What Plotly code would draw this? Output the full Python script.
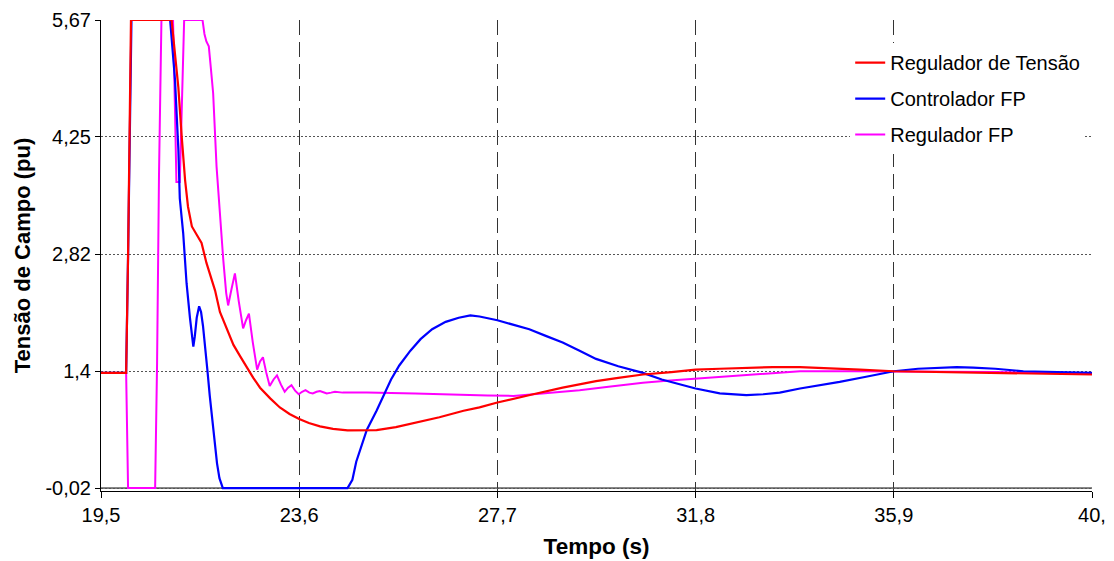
import plotly.graph_objects as go

# ---------------- data ----------------
t_red = [19.5, 20.02, 20.06, 20.09, 20.12, 20.96, 21.03, 21.10, 21.17, 21.24, 21.30, 21.38, 21.48, 21.58,
         21.68, 21.77, 21.86, 21.96, 22.10, 22.24, 22.38, 22.51, 22.65, 22.79, 23.0, 23.2, 23.4, 23.6,
         23.8, 24.03, 24.3, 24.6, 24.9, 25.2, 25.6, 26.0, 26.5, 27.0, 27.33, 27.7, 28.1, 28.44, 29.05,
         29.74, 30.2, 30.71, 31.3, 31.8, 32.3, 32.85, 33.4, 33.96, 34.5, 35.2, 35.9, 36.8, 37.9, 39.0, 40.0]
v_red = [1.38, 1.38, 2.8, 4.3, 5.67, 5.67, 5.30, 4.85, 4.25, 3.72, 3.40, 3.16, 3.06, 2.96,
         2.72, 2.54, 2.38, 2.12, 1.93, 1.72, 1.58, 1.45, 1.32, 1.20, 1.07, 0.96, 0.88, 0.82,
         0.77, 0.73, 0.70, 0.68, 0.68, 0.685, 0.72, 0.77, 0.84, 0.92, 0.96, 1.02, 1.07, 1.12, 1.20,
         1.28, 1.32, 1.36, 1.39, 1.42, 1.43, 1.44, 1.45, 1.45, 1.44, 1.42, 1.40, 1.39, 1.38, 1.37, 1.36]

t_blue = [19.5, 20.02, 20.06, 20.09, 20.13, 20.93, 20.98, 21.03, 21.10, 21.13, 21.20, 21.27, 21.34, 21.38,
          21.41, 21.44, 21.48, 21.53, 21.57, 21.61, 21.65, 21.70, 21.75, 21.80, 21.85, 21.90, 21.95, 22.0,
          22.02, 24.6, 24.7, 24.78, 24.9, 25.0, 25.2, 25.37, 25.5, 25.67, 25.9, 26.11, 26.35, 26.63, 26.9,
          27.14, 27.33, 27.7, 28.0, 28.36, 28.7, 29.05, 29.4, 29.74, 30.2, 30.71, 31.1, 31.47, 31.8, 32.3,
          32.85, 33.2, 33.54, 33.96, 34.4, 34.78, 35.3, 35.9, 36.4, 36.85, 37.2, 37.54, 38.0, 38.58, 39.3, 40.0]
v_blue = [1.38, 1.38, 2.8, 4.3, 5.67, 5.67, 5.35, 4.95, 4.10, 3.50, 3.08, 2.47, 2.05, 1.80,
          1.70, 1.82, 2.05, 2.19, 2.12, 1.95, 1.74, 1.42, 1.10, 0.80, 0.52, 0.28, 0.10, 0.0,
          -0.02, -0.02, 0.08, 0.30, 0.50, 0.69, 0.92, 1.14, 1.30, 1.47, 1.65, 1.79, 1.91, 2.00, 2.05,
          2.08, 2.065, 2.02, 1.97, 1.91, 1.83, 1.75, 1.65, 1.55, 1.46, 1.38, 1.30, 1.24, 1.19, 1.13,
          1.11, 1.12, 1.14, 1.19, 1.23, 1.27, 1.33, 1.40, 1.43, 1.445, 1.45, 1.445, 1.43, 1.40, 1.39, 1.38]

t_mag = [19.5, 20.02, 20.06, 20.62, 20.66, 20.70, 20.75, 20.99, 21.03, 21.06, 21.13, 21.18, 21.22, 21.6,
         21.64, 21.68, 21.73, 21.77, 21.82, 21.89, 21.96, 22.03, 22.09, 22.13, 22.20, 22.27, 22.35, 22.44,
         22.50, 22.56, 22.64, 22.73, 22.79, 22.85, 22.92, 22.99, 23.07, 23.14, 23.22, 23.30, 23.37, 23.44,
         23.52, 23.59, 23.66, 23.73, 23.81, 23.88, 23.96, 24.03, 24.10, 24.17, 24.26, 24.34, 24.5, 25.0,
         26.0, 27.0, 27.5, 28.03, 28.44, 28.9, 29.4, 30.0, 30.71, 31.2, 31.8, 32.3, 32.85, 33.4, 33.96,
         35.0, 35.9, 37.0, 38.0, 39.0, 40.0]
v_mag = [1.38, 1.38, -0.02, -0.02, 1.5, 3.8, 5.67, 5.67, 4.6, 3.70, 3.70, 4.8, 5.67, 5.67,
         5.50, 5.41, 5.35, 5.10, 4.78, 3.89, 3.28, 2.75, 2.35, 2.20, 2.40, 2.59, 2.25, 1.92,
         2.02, 2.10, 1.75, 1.42, 1.52, 1.57, 1.38, 1.22, 1.30, 1.35, 1.24, 1.15, 1.20, 1.23,
         1.16, 1.12, 1.15, 1.17, 1.14, 1.13, 1.15, 1.16, 1.145, 1.13, 1.14, 1.15, 1.14, 1.14,
         1.13, 1.11, 1.105, 1.10, 1.12, 1.14, 1.17, 1.21, 1.26, 1.285, 1.31, 1.335, 1.36, 1.38, 1.40,
         1.40, 1.40, 1.395, 1.39, 1.38, 1.37]

x_ticks = [19.5, 23.6, 27.7, 31.8, 35.9, 40.0]
x_ticklabels = ["19,5", "23,6", "27,7", "31,8", "35,9", "40,"]
y_ticks = [-0.02, 1.4, 2.82, 4.25, 5.67]
y_ticklabels = ["-0,02", "1,4", "2,82", "4,25", "5,67"]

names = ["Regulador de Tensão", "Controlador FP", "Regulador FP"]

# ---------------- figure ----------------
FONT = "Liberation Sans, Arial, sans-serif"
fig = go.Figure()
fig.add_trace(go.Scatter(x=t_mag, y=v_mag, mode="lines", name=names[2], legendrank=3,
                         legendgroup="c", line=dict(color="#FF00FF", width=2)))
fig.add_trace(go.Scatter(x=t_blue, y=v_blue, mode="lines", name=names[1], legendrank=2,
                         legendgroup="b", line=dict(color="#0000FF", width=2.2)))
fig.add_trace(go.Scatter(x=t_red, y=v_red, mode="lines", name=names[0], legendrank=1,
                         legendgroup="a", line=dict(color="#FF0000", width=2.2)))

# solid line at the -0,02 level (double bottom line)
fig.add_shape(type="line", xref="paper", x0=0, x1=1, yref="y", y0=-0.02, y1=-0.02,
              line=dict(color="black", width=1), layer="below")

fig.update_layout(
    width=1114, height=561,
    margin=dict(l=93, r=30, t=12, b=78, autoexpand=False),
    paper_bgcolor="white", plot_bgcolor="white",
    font=dict(family=FONT, size=20, color="black"),
    showlegend=True,
    legend=dict(x=0.756, xanchor="left", y=0.951, yanchor="top",
                bgcolor="white", borderwidth=0, font=dict(size=20, family=FONT),
                traceorder="grouped", tracegroupgap=7, itemwidth=30),
    xaxis=dict(range=[19.5, 40.0], tickvals=x_ticks, ticktext=x_ticklabels,
               showgrid=True, gridcolor="#333333", gridwidth=1, griddash="15px,7px",
               showline=True, linecolor="black", linewidth=1,
               ticks="outside", ticklen=6, tickcolor="black",
               zeroline=False, automargin=False, tickfont=dict(size=20),
               title=dict(text="<b>Tempo (s)</b>", font=dict(size=22.5, family=FONT), standoff=13)),
    yaxis=dict(range=[-0.056, 5.67], tickvals=y_ticks, ticktext=y_ticklabels,
               showgrid=True, gridcolor="#555555", gridwidth=1, griddash="2px,2px",
               showline=True, linecolor="black", linewidth=1,
               ticks="outside", ticklen=5, tickcolor="black",
               zeroline=False, automargin=False, tickfont=dict(size=20),
               title=dict(text="<b>Tensão de Campo (pu)</b>", font=dict(size=22, family=FONT), standoff=8)),
)

fig.write_html("out.html")
